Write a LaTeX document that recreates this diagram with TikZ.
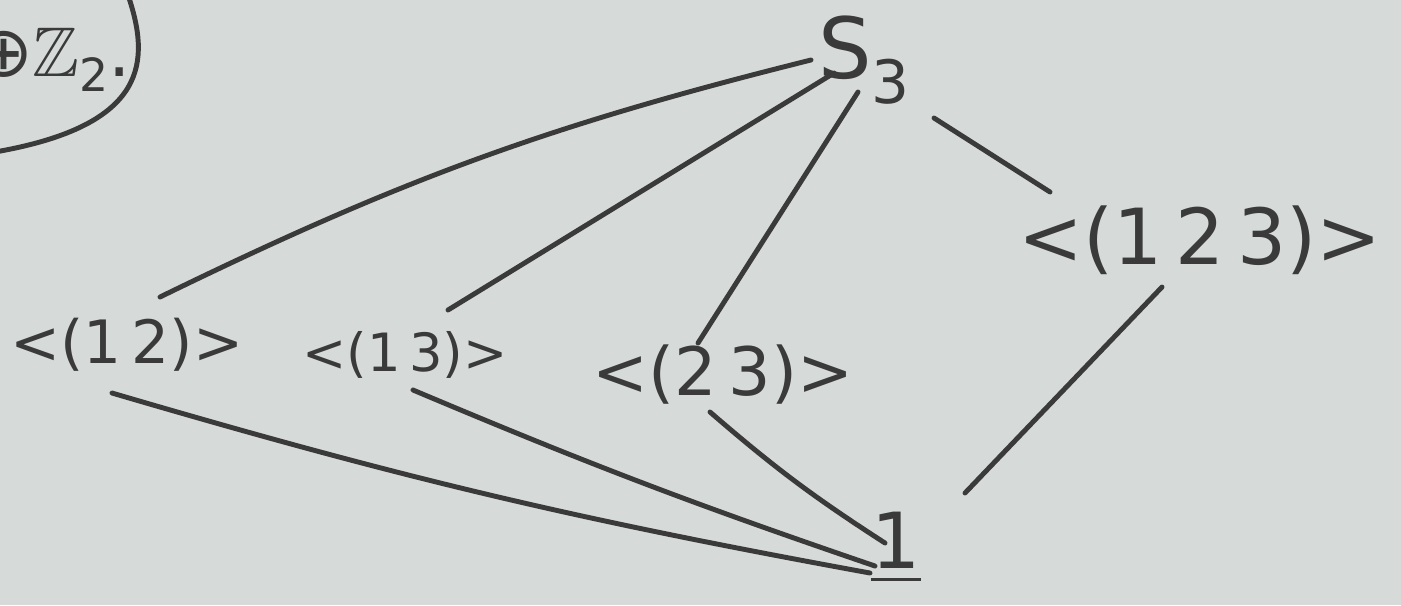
\documentclass[tikz,border=0pt]{standalone}
\usepackage{fontspec}
\usepackage{amssymb}
\setmainfont{DejaVu Sans}
\usetikzlibrary{positioning}

\definecolor{board}{RGB}{214,218,217}
\definecolor{marker}{RGB}{58,58,58}

\begin{document}
\begin{tikzpicture}[x=0.01cm, y=-0.01cm,
  grp/.style={text=marker, inner sep=0pt, font=\fontsize{#1}{#1}\selectfont},
  grp/.default=19,
  edge/.style={draw=marker, line width=1.4pt, line cap=round}]
  % Board
  \fill[board] (0,0) rectangle (1401,605);
  \useasboundingbox (0,0) rectangle (1401,605);

  % Note at the corner of the board
  \node (note) [grp=20, anchor=east] at (132,60) {⊕$\mathbb{Z}$\raisebox{-0.4ex}{\fontsize{13}{13}\selectfont 2}.};
  \draw[edge] (128,-5) .. controls (150,60) and (150,125) .. (-5,152);

  % Nodes
  \node (s3) [grp=24] at (864,60) {S\raisebox{-0.55ex}{\fontsize{17}{17}\selectfont 3}};
  \node (c123) [grp=22] at (1200,240) {<(1\,2\,3)>};
  \node (c12) [grp=17] at (127,345) {<(1\,2)>};
  \node (c13) [grp=15] at (405,355) {<(1\,3)>};
  \node (c23) [grp=19] at (723,375) {<(2\,3)>};
  \node (one) [grp=22] at (896,548) {\underline{1}};

  % Edges
  \draw[edge] ([shift={(33,-48)}]c12.center) to[bend left=6] ([shift={(-53,0)}]s3.center);
  \draw[edge] ([shift={(43,-45)}]c13.center) -- ([shift={(-30,13)}]s3.center);
  \draw[edge] ([shift={(-25,-32)}]c23.center) -- ([shift={(-6,32)}]s3.center);
  \draw[edge] ([shift={(70,58)}]s3.center) -- ([shift={(-150,-48)}]c123.center);
  \draw[edge] ([shift={(-15,48)}]c12.center) to[bend right=3] ([shift={(-26,25)}]one.center);
  \draw[edge] ([shift={(8,35)}]c13.center) to[bend right=2] ([shift={(-21,18)}]one.center);
  \draw[edge] ([shift={(-13,37)}]c23.center) to[bend right=4] ([shift={(-11,-5)}]one.center);
  \draw[edge] ([shift={(-38,47)}]c123.center) -- ([shift={(69,-55)}]one.center);
\end{tikzpicture}
\end{document}
